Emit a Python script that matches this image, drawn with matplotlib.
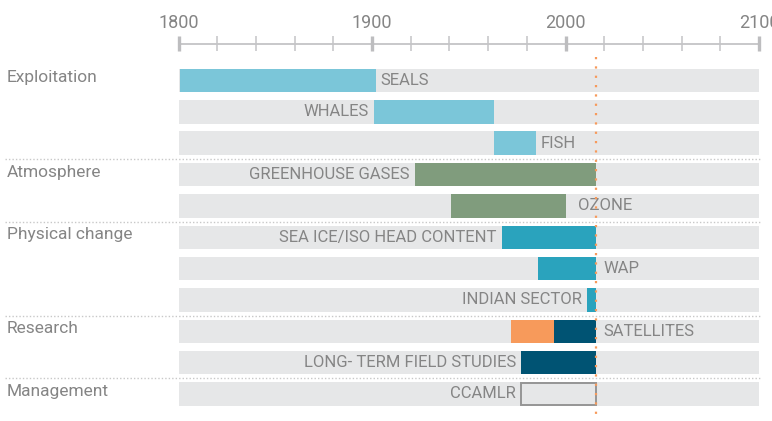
import numpy as np
import matplotlib
matplotlib.use('Agg')
from matplotlib import pyplot as plt
import matplotlib.patches as ptch
from matplotlib.transforms import blended_transform_factory

plt.rcParams['font.family'] = ['Roboto', 'DejaVu Sans']

# data
labels = ['SEALS', 'WHALES', 'FISH', 'GREENHOUSE GASES', 'OZONE',
          'SEA ICE/ISO HEAD CONTENT', 'WAP', 'INDIAN SECTOR', 'SATELLITES',
          'LONG- TERM FIELD STUDIES', 'CCAMLR']
starts = [1801, 1901, 1963, 1922, 1941, 1967, 1986, 2011, 1972, 1977, 1977]
ends = [1902, 1963, 1985, 2016, 2000, 2016, 2016, 2016, 1994, 2016, 2016]
label_side = ['right', 'left', 'right', 'left', 'right', 'left', 'right', 'left',
              'right', 'left', 'left']
extra_start = [None] * 8 + [1994, None, None]   # second segment of SATELLITES
extra_end = [None] * 8 + [2016, None, None]

groups = ['Exploitation', 'Atmosphere', 'Physical change', 'Research', 'Management']
group_rows = [0, 3, 5, 8, 10]
now_year = 2016

light_blue = '#7bc6d9'
green = '#809c7d'
teal = '#2aa3bd'
navy = '#005373'
orange = '#f79a5b'
colors = [light_blue, light_blue, light_blue, green, green, teal, teal, teal,
          orange, navy, 'none']
bg = '#e6e7e8'
txt = '#858585'
line_gray = '#c4c4c6'

# layout in pixels -> data
px_per_year = 580.5 / 300
row_px = 31.35
row0_px = 80.5
def xpx(p):
    return 1800 + (p - 178.5) / px_per_year
def ypx(p):
    return (p - row0_px) / row_px

fig = plt.figure(figsize=(7.72, 4.21), dpi=100)
ax = fig.add_axes([0, 0, 1, 1])
ax.set_xlim(xpx(0), xpx(772))
ax.set_ylim(ypx(421), ypx(0))
ax.axis('off')

h = 23.5 / row_px
n = len(labels)

# axis on top
ax.plot([1800, 2100], [ypx(43.5)] * 2, color=line_gray, lw=1.3, solid_capstyle='butt')
for yr in range(1800, 2101, 20):
    major = yr % 100 == 0
    ax.plot([yr, yr], [ypx(36), ypx(51)], color='#bdbdbf' if major else line_gray,
            lw=2.4 if major else 1.1, solid_capstyle='butt')
    if major:
        ax.text(yr, ypx(22.5), str(yr), ha='center', va='center', fontsize=13, color=txt)

pad_pt = {'right': 3, 'left': -3.5}
pad_override = {'OZONE': 9, 'WAP': 5, 'SATELLITES': 5}

for i in range(n):
    ax.add_patch(ptch.Rectangle((1800, i - h / 2), 300, h, facecolor=bg, edgecolor='none', zorder=1))
    if colors[i] == 'none':
        ax.add_patch(ptch.Rectangle((starts[i], i - h / 2 + 0.02), ends[i] - starts[i], h - 0.04,
                                    facecolor='none', edgecolor='#959595', lw=1.4, zorder=2))
    else:
        ax.add_patch(ptch.Rectangle((starts[i], i - h / 2), ends[i] - starts[i], h,
                                    facecolor=colors[i], edgecolor='none', zorder=2))
    if extra_start[i] is not None:
        ax.add_patch(ptch.Rectangle((extra_start[i], i - h / 2), extra_end[i] - extra_start[i], h,
                                    facecolor=navy, edgecolor='none', zorder=2))
        end_i = extra_end[i]
    else:
        end_i = ends[i]
    if label_side[i] == 'right':
        off = pad_override.get(labels[i], pad_pt['right'])
        ax.annotate(labels[i], (end_i, i), xytext=(off, 0), textcoords='offset points',
                    ha='left', va='center', fontsize=12, color=txt, zorder=3)
    else:
        ax.annotate(labels[i], (starts[i], i), xytext=(pad_pt['left'], 0), textcoords='offset points',
                    ha='right', va='center', fontsize=12, color=txt, zorder=3)

# group separators and names
tr = blended_transform_factory(ax.transAxes, ax.transData)
for r in group_rows[1:]:
    ax.plot([xpx(5), xpx(760)], [r - 0.5, r - 0.5], color='#c8c8c8', lw=1.0,
            linestyle=(0, (1, 1.5)), zorder=1)
for g, r in zip(groups, group_rows):
    ax.text(7 / 772, r - 0.08, g, transform=tr, ha='left', va='center', fontsize=12.5, color=txt)

# current year marker
ax.plot([now_year, now_year], [ypx(57), ypx(417)], color=orange, lw=1.6,
        linestyle=(0, (1, 3.2)), zorder=4)

fig.savefig('out.png', dpi=100)
